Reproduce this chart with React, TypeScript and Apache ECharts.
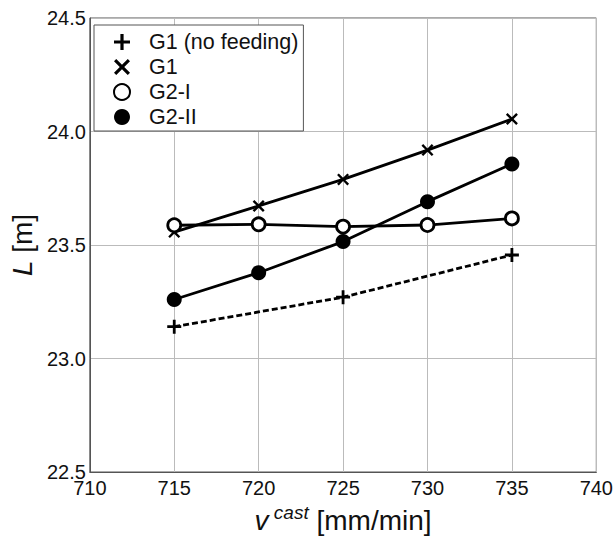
import React, { useEffect, useRef } from "react";
import * as echarts from "echarts";

const xValues = [715, 720, 725, 730, 735];
const g1NoFeedX = [715, 725, 735];
const g1NoFeed = [23.14, 23.27, 23.456];
const g1 = [23.557, 23.672, 23.789, 23.918, 24.055];
const g2I = [23.587, 23.591, 23.581, 23.588, 23.617];
const g2II = [23.26, 23.378, 23.515, 23.691, 23.857];
const seriesNames = ["G1 (no feeding)", "G1", "G2-I", "G2-II"];

const PLUS = "path://M4,0L6,0L6,4L10,4L10,6L6,6L6,10L4,10L4,6L0,6L0,4L4,4Z";
const CROSS =
  "path://M0,1.4L1.4,0L5,3.6L8.6,0L10,1.4L6.4,5L10,8.6L8.6,10L5,6.4L1.4,10L0,8.6L3.6,5Z";

const FONT = "'Liberation Sans', Arial, Helvetica, sans-serif";

export default function App() {
  const ref = useRef<HTMLDivElement>(null);
  useEffect(() => {
    if (!ref.current) return;
    const chart = echarts.init(ref.current, undefined, { renderer: "svg" });
    const pair = (xs: number[], ys: number[]) => xs.map((x, i) => [x, ys[i]]);
    chart.setOption({
      animation: false,
      backgroundColor: "#fff",
      textStyle: { fontFamily: FONT },
      grid: {
        left: 86,
        top: 18,
        width: 511,
        height: 454,
        show: true,
        borderColor: "#555",
        borderWidth: 1,
        backgroundColor: "transparent",
      },
      legend: {
        orient: "vertical",
        left: 94,
        top: 25,
        padding: [6, 5, 3, 19],
        itemWidth: 44,
        itemHeight: 16,
        itemGap: 3,
        backgroundColor: "#fff",
        borderColor: "#555",
        borderWidth: 1,
        textStyle: { fontFamily: FONT, fontSize: 21.5, color: "#111", lineHeight: 22 },
        data: [
          { name: seriesNames[0], icon: PLUS },
          { name: seriesNames[1], icon: CROSS },
          { name: seriesNames[2], icon: "circle" },
          { name: seriesNames[3], icon: "circle" },
        ],
      },
      xAxis: {
        type: "value",
        min: 710,
        max: 740,
        interval: 5,
        axisLine: { show: true, lineStyle: { color: "#555", width: 1 } },
        axisTick: { show: false },
        splitLine: { show: true, lineStyle: { color: "#bbb", width: 1 } },
        axisLabel: { fontFamily: FONT, fontSize: 20, color: "#111", margin: 6 },
        name: "{v|v}{s| cast}{n| [mm/min]}",
        nameLocation: "middle",
        nameGap: 29,
        nameTextStyle: {
          rich: {
            v: { fontFamily: FONT, fontSize: 28, fontStyle: "italic", color: "#111", lineHeight: 32, verticalAlign: "bottom" },
            s: { fontFamily: FONT, fontSize: 19, fontStyle: "italic", color: "#111", lineHeight: 18, verticalAlign: "top" },
            n: { fontFamily: FONT, fontSize: 28, color: "#111", lineHeight: 32, verticalAlign: "bottom" },
          },
        },
      },
      yAxis: {
        type: "value",
        min: 22.5,
        max: 24.5,
        interval: 0.5,
        axisLine: { show: true, lineStyle: { color: "#555", width: 1 } },
        axisTick: { show: false },
        splitLine: { show: true, lineStyle: { color: "#bbb", width: 1 } },
        axisLabel: {
          fontFamily: FONT,
          fontSize: 20,
          color: "#111",
          margin: 4,
          formatter: (v: number) => v.toFixed(1),
        },
        name: "{i|L}{n| [m]}",
        nameLocation: "middle",
        nameRotate: 90,
        nameGap: 52,
        nameTextStyle: {
          rich: {
            i: { fontFamily: FONT, fontSize: 28, fontStyle: "italic", color: "#111" },
            n: { fontFamily: FONT, fontSize: 28, color: "#111" },
          },
        },
      },
      series: [
        {
          name: seriesNames[0],
          type: "line",
          data: pair(g1NoFeedX, g1NoFeed),
          symbol: PLUS,
          symbolSize: 14,
          itemStyle: { color: "#000" },
          lineStyle: { color: "#000", width: 2.8, type: [6, 3] },
        },
        {
          name: seriesNames[1],
          type: "line",
          data: pair(xValues, g1),
          symbol: CROSS,
          symbolSize: 12,
          itemStyle: { color: "#000" },
          lineStyle: { color: "#000", width: 2.8 },
        },
        {
          name: seriesNames[2],
          type: "line",
          data: pair(xValues, g2I),
          symbol: "circle",
          symbolSize: 13,
          itemStyle: { color: "#fff", borderColor: "#000", borderWidth: 2.8 },
          lineStyle: { color: "#000", width: 2.8 },
        },
        {
          name: seriesNames[3],
          type: "line",
          data: pair(xValues, g2II),
          symbol: "circle",
          symbolSize: 15,
          itemStyle: { color: "#000" },
          lineStyle: { color: "#000", width: 2.8 },
        },
      ],
    });
    return () => chart.dispose();
  }, []);
  return <div ref={ref} style={{ width: 616, height: 541, position: "absolute", left: 0, top: 0 }} />;
}
